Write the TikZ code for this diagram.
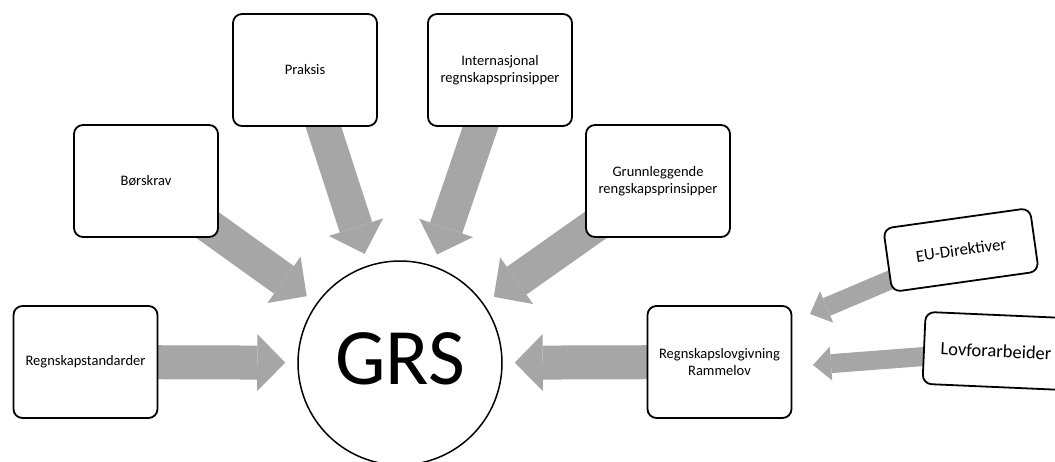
\documentclass[tikz,border=0pt]{standalone}
\usepackage{fontspec}
\setmainfont{Carlito}
\usetikzlibrary{arrows.meta,backgrounds}
\definecolor{arrowgray}{RGB}{166,166,166}

\begin{document}
\begin{tikzpicture}[x=1pt, y=-1pt,
    box/.style={draw, line width=1.8pt, rounded corners=9pt, fill=white,
      minimum width=144pt, minimum height=112pt, align=center,
      font=\fontsize{14.5}{17.5}\selectfont},
    feed/.style={draw=arrowgray, line width=34pt,
      -{Triangle[length=28pt, width=57pt, line width=0pt]}, shorten >=12pt},
    smallfeed/.style={draw=arrowgray, line width=19pt,
      -{Triangle[length=18pt, width=34pt, line width=0pt]}}]
  \useasboundingbox (0,0) rectangle (1055,461);

  \node[circle, draw, line width=1.5pt, minimum size=204pt, inner sep=0pt,
    font=\fontsize{80}{80}\selectfont, text depth=9pt] (grs) at (400,363) {GRS};

  \node[box] (standarder) at (85.5,362) {Regnskapstandarder};
  \node[box] (borskrav) at (146,181) {Børskrav};
  \node[box] (praksis) at (305,70) {Praksis};
  \node[box] (internasjonal) at (500,70) {Internasjonal\\regnskapsprinsipper};
  \node[box] (grunnleggende) at (658,181) {Grunnleggende\\rengskapsprinsipper};
  \node[box] (lovgivning) at (719.5,362) {Regnskapslovgivning\\Rammelov};

  \node[box, rotate=8, minimum width=148pt, minimum height=64pt,
    font=\fontsize{16.8}{20}\selectfont] (eu) at (961,250) {EU-Direktiver};
  \node[box, rotate=-2.5, minimum width=144pt, minimum height=72pt,
    font=\fontsize{18.5}{22}\selectfont] (forarbeider) at (996,351) {Lovforarbeider};

  \coordinate (eutip) at (810,314);
  \coordinate (lovtip) at (813,365);

  \begin{pgfonlayer}{background}
    \foreach \src in {standarder, borskrav, praksis, internasjonal, grunnleggende, lovgivning}
      \draw[feed] (\src.center) -- (grs);
    \draw[smallfeed] (eu.center) -- (eutip);
    \draw[smallfeed] (forarbeider.center) -- (lovtip);
  \end{pgfonlayer}
\end{tikzpicture}
\end{document}
